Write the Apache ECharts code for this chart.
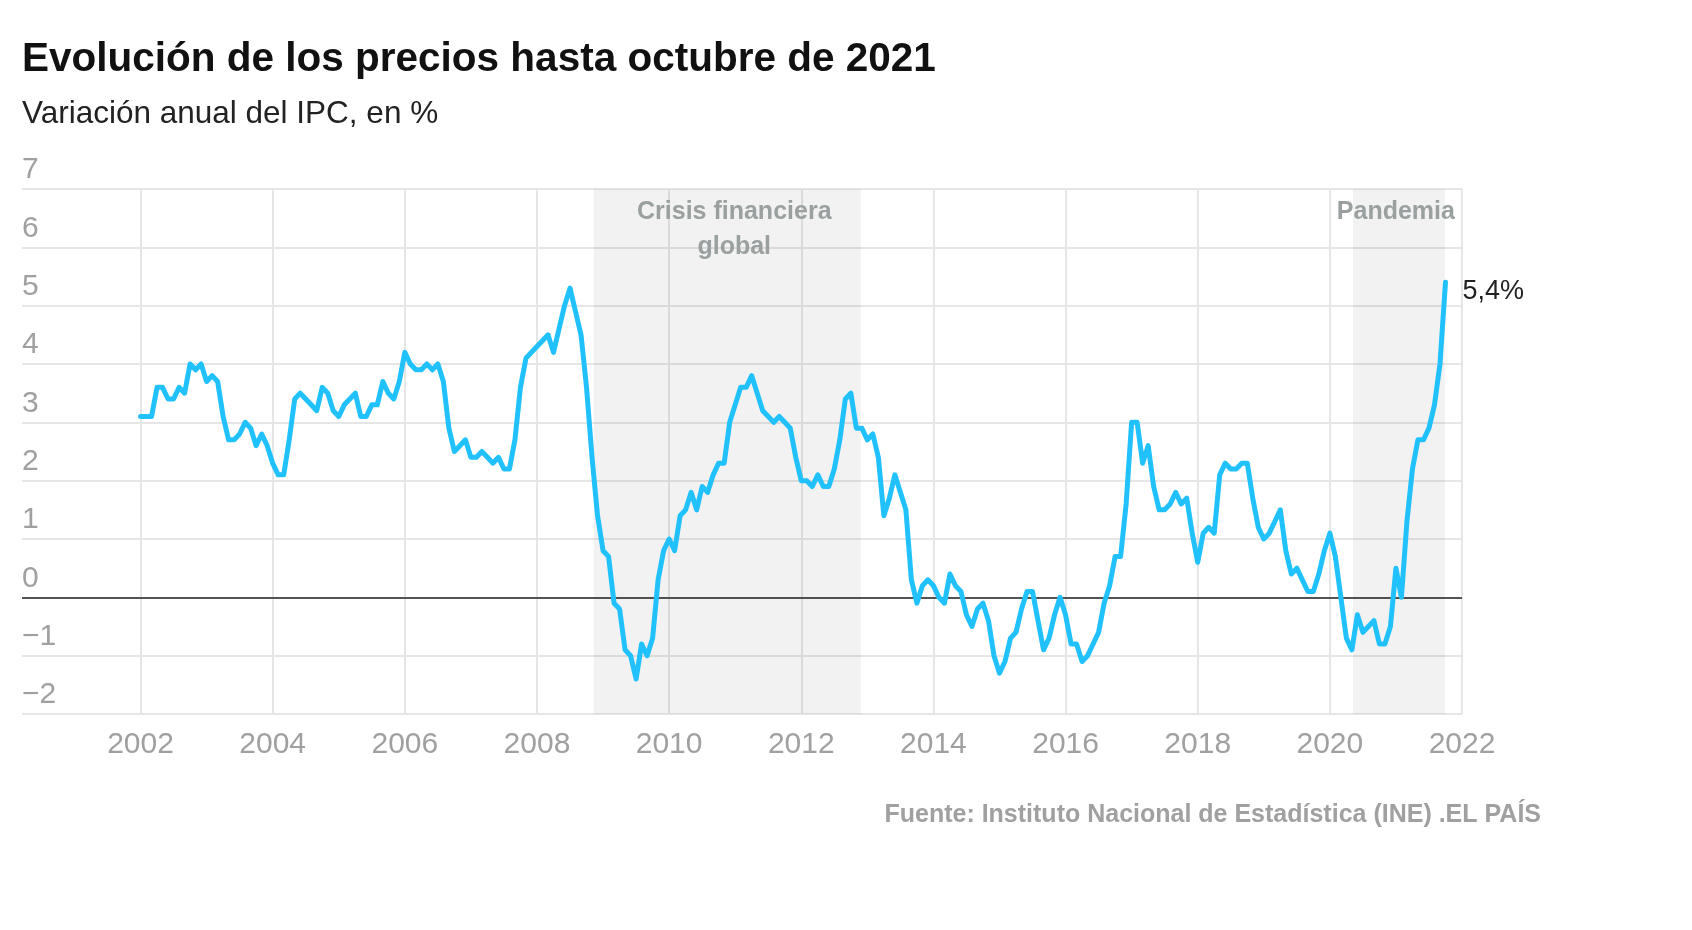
<!DOCTYPE html>
<html>
<head>
<meta charset="utf-8">
<title>Evolución de los precios</title>
<script src="https://cdn.jsdelivr.net/npm/echarts@6/dist/echarts.min.js"></script>
<style>
  html, body { margin: 0; padding: 0; background: #fff; }
  #chart { width: 1692px; height: 930px; }
</style>
</head>
<body>
<div id="chart"></div>
<script>
// variación anual del IPC, mensual desde enero de 2002
const firstYear = 2002;
const ipc = [
  3.1, 3.1, 3.1, 3.6, 3.6, 3.4, 3.4, 3.6, 3.5, 4.0, 3.9, 4.0,      // 2002
  3.7, 3.8, 3.7, 3.1, 2.7, 2.7, 2.8, 3.0, 2.9, 2.6, 2.8, 2.6,      // 2003
  2.3, 2.1, 2.1, 2.7, 3.4, 3.5, 3.4, 3.3, 3.2, 3.6, 3.5, 3.2,      // 2004
  3.1, 3.3, 3.4, 3.5, 3.1, 3.1, 3.3, 3.3, 3.7, 3.5, 3.4, 3.7,      // 2005
  4.2, 4.0, 3.9, 3.9, 4.0, 3.9, 4.0, 3.7, 2.9, 2.5, 2.6, 2.7,      // 2006
  2.4, 2.4, 2.5, 2.4, 2.3, 2.4, 2.2, 2.2, 2.7, 3.6, 4.1, 4.2,      // 2007
  4.3, 4.4, 4.5, 4.2, 4.6, 5.0, 5.3, 4.9, 4.5, 3.6, 2.4, 1.4,      // 2008
  0.8, 0.7, -0.1, -0.2, -0.9, -1.0, -1.4, -0.8, -1.0, -0.7, 0.3, 0.8, // 2009
  1.0, 0.8, 1.4, 1.5, 1.8, 1.5, 1.9, 1.8, 2.1, 2.3, 2.3, 3.0,      // 2010
  3.3, 3.6, 3.6, 3.8, 3.5, 3.2, 3.1, 3.0, 3.1, 3.0, 2.9, 2.4,      // 2011
  2.0, 2.0, 1.9, 2.1, 1.9, 1.9, 2.2, 2.7, 3.4, 3.5, 2.9, 2.9,      // 2012
  2.7, 2.8, 2.4, 1.4, 1.7, 2.1, 1.8, 1.5, 0.3, -0.1, 0.2, 0.3,     // 2013
  0.2, 0.0, -0.1, 0.4, 0.2, 0.1, -0.3, -0.5, -0.2, -0.1, -0.4, -1.0, // 2014
  -1.3, -1.1, -0.7, -0.6, -0.2, 0.1, 0.1, -0.4, -0.9, -0.7, -0.3, 0.0, // 2015
  -0.3, -0.8, -0.8, -1.1, -1.0, -0.8, -0.6, -0.1, 0.2, 0.7, 0.7, 1.6, // 2016
  3.0, 3.0, 2.3, 2.6, 1.9, 1.5, 1.5, 1.6, 1.8, 1.6, 1.7, 1.1,      // 2017
  0.6, 1.1, 1.2, 1.1, 2.1, 2.3, 2.2, 2.2, 2.3, 2.3, 1.7, 1.2,      // 2018
  1.0, 1.1, 1.3, 1.5, 0.8, 0.4, 0.5, 0.3, 0.1, 0.1, 0.4, 0.8,      // 2019
  1.1, 0.7, 0.0, -0.7, -0.9, -0.3, -0.6, -0.5, -0.4, -0.8, -0.8, -0.5, // 2020
  0.5, 0.0, 1.3, 2.2, 2.7, 2.7, 2.9, 3.3, 4.0, 5.4                 // 2021
];
const xTicks = [2002, 2004, 2006, 2008, 2010, 2012, 2014, 2016, 2018, 2020, 2022];
const yTicks = [-2, -1, 0, 1, 2, 3, 4, 5, 6, 7];

// periodos sombreados (en años)
const bandNames = ['Crisis financiera\nglobal', 'Pandemia'];
const bandStart = [2008.86, 2020.35];
const bandEnd = [2012.9, 2021.74];

const font = 'Liberation Sans, Arial, sans-serif';
const chart = echarts.init(document.getElementById('chart'));

const seriesData = ipc.map((v, i) => [firstYear + i / 12, v]);

const bands = bandNames.map((name, i) => [
  {
    name: name,
    xAxis: bandStart[i],
    label: { offset: [i === 0 ? 7 : -3, 0] }
  },
  { xAxis: bandEnd[i] }
]);

const option = {
  animation: false,
  backgroundColor: '#fff',
  title: [
    {
      text: 'Evolución de los precios hasta octubre de 2021',
      left: 22, top: 39, padding: 0,
      textStyle: { fontFamily: font, fontWeight: 'bold', fontSize: 40.5, color: '#111' }
    },
    {
      text: 'Variación anual del IPC, en %',
      left: 22, top: 98, padding: 0,
      textStyle: { fontFamily: font, fontWeight: 'normal', fontSize: 31.5, color: '#222' }
    },
    {
      text: 'Fuente: Instituto Nacional de Estadística (INE) .EL PAÍS',
      right: 151, top: 803, padding: 0,
      textStyle: { fontFamily: font, fontWeight: 'bold', fontSize: 25, color: '#a0a0a0' }
    }
  ],
  grid: { left: 22, right: 230, top: 189, bottom: 216 },
  xAxis: {
    type: 'value',
    min: 2000.206,
    max: 2022,
    axisLine: { show: false },
    axisTick: { show: false, customValues: xTicks },
    axisLabel: {
      customValues: xTicks,
      color: '#a0a0a0',
      fontFamily: font,
      fontSize: 30,
      margin: 16,
      formatter: v => String(v)
    },
    splitLine: { show: true, lineStyle: { color: '#e6e6e6', width: 2 } }
  },
  yAxis: {
    type: 'value',
    min: yTicks[0],
    max: yTicks[yTicks.length - 1],
    interval: 1,
    axisLine: { show: false },
    axisTick: { show: false },
    axisLabel: {
      inside: true,
      margin: 0,
      verticalAlign: 'bottom',
      lineHeight: 30,
      padding: [0, 0, 4, 0],
      color: '#a0a0a0',
      fontFamily: font,
      fontSize: 30,
      formatter: v => String(v).replace('-', '\u2212')
    },
    splitLine: { show: true, lineStyle: { color: '#e6e6e6', width: 2 } }
  },
  series: [
    {
      type: 'line',
      data: seriesData,
      showSymbol: false,
      symbol: 'none',
      lineStyle: { color: '#20c1fc', width: 5, join: 'round', cap: 'round' },
      z: 5,
      endLabel: {
        show: true,
        distance: 17,
        offset: [0, 9],
        color: '#222',
        fontFamily: font,
        fontSize: 27,
        formatter: p => p.value[1].toFixed(1).replace('.', ',') + '%'
      },
      markArea: {
        silent: true,
        itemStyle: { color: 'rgba(0,0,0,0.05)' },
        label: {
          show: true,
          position: 'insideTop',
          distance: 6,
          color: '#9aa0a0',
          fontFamily: font,
          fontWeight: 'bold',
          fontSize: 25,
          lineHeight: 35,
          align: 'center'
        },
        data: bands
      },
      markLine: {
        silent: true,
        symbol: ['none', 'none'],
        label: { show: false },
        lineStyle: { color: '#222', width: 1.5, type: 'solid' },
        data: [{ yAxis: 0 }]
      }
    }
  ]
};

chart.setOption(option);
</script>
</body>
</html>
